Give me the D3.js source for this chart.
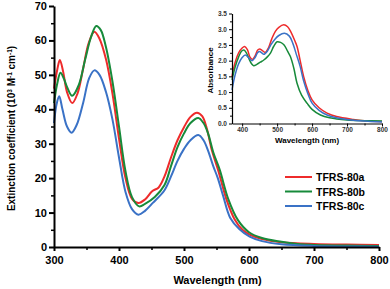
<!DOCTYPE html>
<html>
<head>
<meta charset="utf-8">
<script src="https://cdn.jsdelivr.net/npm/d3@7"></script>
<style>
  body { margin: 0; background: #fff; }
  text { font-family: "Liberation Sans", Arial, sans-serif; font-weight: bold; }
</style>
</head>
<body>
<div id="chart"></div>
<script>
// main spectra: [wavelength nm, extinction 10^3 M-1 cm-1]
const seriesNames = ["TFRS-80a", "TFRS-80b", "TFRS-80c"];
const seriesColors = ["#ee2b2b", "#178a3a", "#3a72c6"];

const mainA = [[300,46],[305,51.5],[309,54.3],[314,51],[320,45],[328,41.8],[336,44.5],[345,52],[353,59],[362,62.5],
  [370,60.5],[380,54.5],[390,44.5],[400,31.5],[410,20],[420,14],[430,12.8],[440,13.8],[451,16.2],[461,17.3],
  [470,20.5],[480,26],[490,31],[500,34.8],[510,37.8],[520,39],[528,38],[535,34.5],[543,28],[553,22],
  [565,14],[578,8],[590,5],[601,3.6],[620,2.3],[650,1.4],[700,0.9],[750,0.7],[800,0.6]];
const mainB = [[300,41.8],[305,47.5],[310,50.6],[315,49],[320,46.5],[328,43.9],[338,47],[348,54.5],[357,61],[365,64.2],
  [372,63],[380,58],[390,48],[400,35],[410,22],[420,14.5],[431,11.8],[440,12.5],[455,14.5],[470,18],
  [480,23.5],[490,29],[500,33],[510,36],[522,37.5],[530,36],[537,33],[545,27.5],[555,22.4],[568,14],
  [583,7.8],[600,4.3],[620,2.6],[650,1.5],[678,0.8],[700,0.6],[750,0.4],[800,0.3]];
const mainC = [[300,36],[304,41.5],[308,43.8],[313,40],[320,35],[327,33.2],[335,35.5],[345,42],[354,49],[362,51.3],
  [370,50],[380,45],[390,37],[400,26],[410,16],[420,11],[430,9.4],[440,10.5],[452,12.8],[470,16.5],
  [480,20.5],[490,25],[500,28.5],[510,31],[522,32.5],[530,31],[537,28],[545,23.5],[552,20],[560,15],
  [571,8.5],[585,5.2],[601,3.0],[620,1.7],[650,0.8],[700,0.3],[750,0.15],[800,0.1]];

// inset absorbance: [wavelength nm, absorbance]
const insetA = [[371,1.49],[380,1.95],[390,2.25],[400,2.4],[407,2.45],[415,2.35],[422,2.12],[429,2.04],[437,2.15],[444,2.33],
  [450,2.37],[457,2.33],[466,2.26],[475,2.4],[485,2.7],[495,2.93],[505,3.06],[519,3.14],[530,3.08],[540,2.9],
  [550,2.65],[557,2.45],[566,2.0],[576,1.49],[588,1.05],[600,0.75],[620,0.5],[643,0.33],[670,0.22],[718,0.13],
  [760,0.08],[800,0.06]];
const insetB = [[371,1.39],[380,1.8],[390,2.12],[398,2.3],[405,2.34],[412,2.25],[420,2.05],[427,1.9],[433,1.84],[442,1.88],
  [452,1.95],[462,2.02],[472,2.12],[481,2.24],[490,2.45],[500,2.6],[510,2.58],[520,2.5],[530,2.3],[538,2.13],
  [548,1.75],[557,1.28],[570,0.9],[586,0.64],[600,0.45],[624,0.27],[650,0.18],[700,0.11],[750,0.09],[800,0.08]];
const insetC = [[371,1.07],[380,1.55],[390,1.9],[400,2.1],[409,2.18],[418,2.1],[428,2.0],[437,2.1],[444,2.25],[450,2.29],
  [456,2.25],[462,2.2],[472,2.3],[482,2.5],[495,2.7],[505,2.8],[521,2.87],[535,2.78],[545,2.55],[555,2.2],
  [566,1.81],[576,1.35],[588,0.95],[600,0.65],[620,0.42],[643,0.27],[670,0.18],[718,0.1],[760,0.07],[800,0.05]];

const mainXTicks = [300, 400, 500, 600, 700, 800];
const mainYTicks = [0, 10, 20, 30, 40, 50, 60, 70];
const insetXTicks = [400, 500, 600, 700, 800];
const insetYTicks = [0, 0.5, 1, 1.5, 2, 2.5, 3, 3.5];

const W = 390, H = 289;
const svg = d3.select("#chart").append("svg").attr("width", W).attr("height", H);

// ---- main plot
const x = d3.scaleLinear().domain([300, 800]).range([54, 379]);
const y = d3.scaleLinear().domain([0, 70]).range([247, 6]);

const line = d3.line().x(d => x(d[0])).y(d => y(d[1])).curve(d3.curveCatmullRom);
const mainData = [mainA, mainB, mainC];

svg.append("g").selectAll("path")
  .data(mainData)
  .join("path")
  .attr("d", line)
  .attr("fill", "none")
  .attr("stroke", (d, i) => seriesColors[i])
  .attr("stroke-width", 2);

// minor ticks first, then major axes on top
svg.append("g")
  .attr("transform", `translate(0,${y(0)})`)
  .call(d3.axisBottom(x).tickValues(d3.range(350, 800, 100)).tickSize(3).tickFormat(""))
  .call(g => g.select(".domain").remove())
  .call(g => g.selectAll("line").attr("stroke-width", 1.5));
svg.append("g")
  .attr("transform", `translate(${x(300)},0)`)
  .call(d3.axisLeft(y).tickValues(d3.range(5, 70, 10)).tickSize(3).tickFormat(""))
  .call(g => g.select(".domain").remove())
  .call(g => g.selectAll("line").attr("stroke-width", 1.5));

const xAxis = svg.append("g")
  .attr("transform", `translate(0,${y(0)})`)
  .call(d3.axisBottom(x).tickValues(mainXTicks).tickSize(4).tickSizeOuter(0).tickPadding(5));
const yAxis = svg.append("g")
  .attr("transform", `translate(${x(300)},0)`)
  .call(d3.axisLeft(y).tickValues(mainYTicks).tickSize(5).tickSizeOuter(0).tickPadding(2));
[xAxis, yAxis].forEach(g => {
  g.select(".domain").attr("stroke-width", 2);
  g.selectAll("line").attr("stroke-width", 2);
  g.selectAll("text").attr("font-size", 11).attr("font-family", "Liberation Sans, Arial").attr("font-weight", "bold").attr("fill", "#000");
});

svg.append("text")
  .attr("x", (x(300) + x(800)) / 2 + 1)
  .attr("y", 284)
  .attr("text-anchor", "middle")
  .attr("font-size", 11)
  .text("Wavelength (nm)");

const yt = svg.append("text")
  .attr("transform", `translate(15,${(y(0) + y(70)) / 2 + 2}) rotate(-90)`)
  .attr("text-anchor", "middle")
  .attr("font-size", 10);
yt.append("tspan").text("Extinction coefficient (10");
yt.append("tspan").attr("baseline-shift", "super").attr("font-size", 6.5).text("3");
yt.append("tspan").text(" M");
yt.append("tspan").attr("baseline-shift", "super").attr("font-size", 6.5).text("-1");
yt.append("tspan").text(" cm");
yt.append("tspan").attr("baseline-shift", "super").attr("font-size", 6.5).text("-1");
yt.append("tspan").text(")");

// legend
const legend = svg.append("g");
seriesNames.forEach((name, i) => {
  const ly = 177 + i * 14.5;
  legend.append("line")
    .attr("x1", 285).attr("x2", 312).attr("y1", ly).attr("y2", ly)
    .attr("stroke", seriesColors[i]).attr("stroke-width", 2);
  legend.append("text")
    .attr("x", 316).attr("y", ly + 4)
    .attr("font-size", 10.5)
    .text(name);
});

// ---- inset
const ix = d3.scaleLinear().domain([371, 800]).range([232, 382]);
const iy = d3.scaleLinear().domain([0, 3.5]).range([123.5, 13.5]);
const iline = d3.line().x(d => ix(d[0])).y(d => iy(d[1])).curve(d3.curveCatmullRom);
const insetData = [insetA, insetB, insetC];

svg.append("g").selectAll("path")
  .data(insetData)
  .join("path")
  .attr("d", iline)
  .attr("fill", "none")
  .attr("stroke", (d, i) => seriesColors[i])
  .attr("stroke-width", 1.5);

svg.append("g")
  .attr("transform", `translate(0,${iy(0)})`)
  .call(d3.axisBottom(ix).tickValues(d3.range(450, 800, 100)).tickSize(2).tickFormat(""))
  .call(g => g.select(".domain").remove());
svg.append("g")
  .attr("transform", `translate(${ix(371)},0)`)
  .call(d3.axisLeft(iy).tickValues(d3.range(0.25, 3.5, 0.5)).tickSize(2).tickFormat(""))
  .call(g => g.select(".domain").remove());

const ixAxis = svg.append("g")
  .attr("transform", `translate(0,${iy(0)})`)
  .call(d3.axisBottom(ix).tickValues(insetXTicks).tickSize(3).tickSizeOuter(0).tickPadding(1));
const iyAxis = svg.append("g")
  .attr("transform", `translate(${ix(371)},0)`)
  .call(d3.axisLeft(iy).tickValues(insetYTicks).tickSize(3).tickSizeOuter(0).tickPadding(2)
    .tickFormat(d3.format(".1f")));
[ixAxis, iyAxis].forEach(g => {
  g.select(".domain").attr("stroke-width", 1.2);
  g.selectAll("line").attr("stroke-width", 1);
  g.selectAll("text").attr("font-size", 6.5).attr("font-family", "Liberation Sans, Arial").attr("font-weight", "bold").attr("fill", "#333");
});

svg.append("text")
  .attr("x", 307)
  .attr("y", 143)
  .attr("text-anchor", "middle")
  .attr("font-size", 8)
  .text("Wavelength (nm)");
svg.append("text")
  .attr("transform", `translate(213,${(iy(0) + iy(3.5)) / 2 + 2}) rotate(-90)`)
  .attr("text-anchor", "middle")
  .attr("font-size", 8)
  .text("Absorbance");
</script>
</body>
</html>
